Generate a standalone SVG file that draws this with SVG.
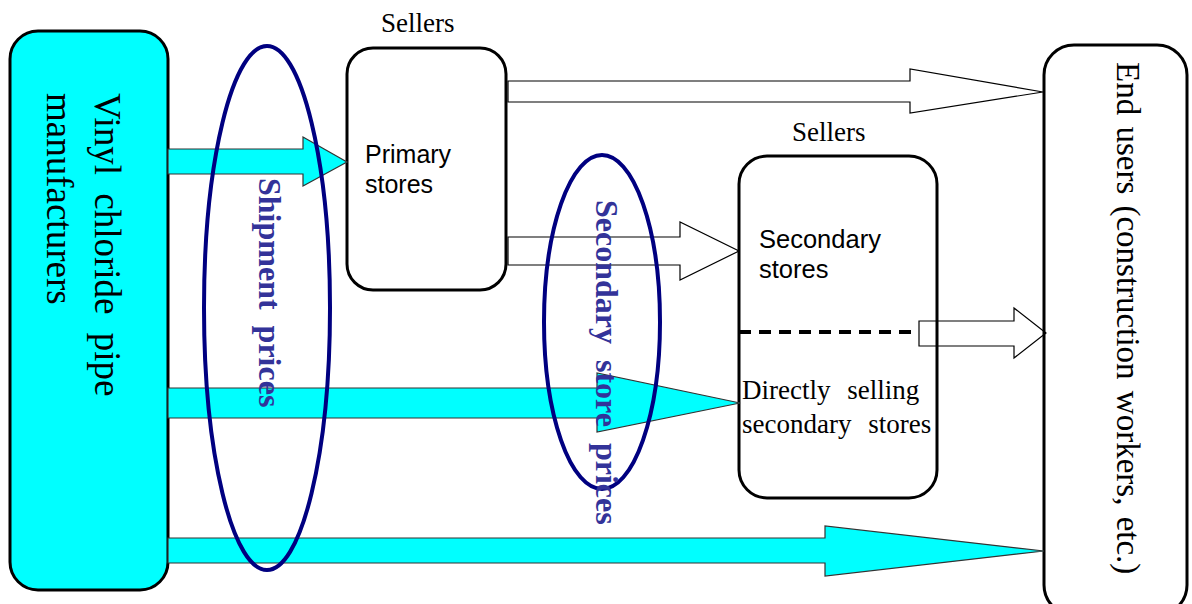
<svg xmlns="http://www.w3.org/2000/svg" width="1192" height="604" viewBox="0 0 1192 604">
<style>
.box{fill:#fff;stroke:#000;stroke-width:3}
.serif{font-family:"Liberation Serif","Times New Roman",serif;fill:#000}
.sans{font-family:"Liberation Sans",Arial,sans-serif;fill:#000}
.cyanarrow{fill:#00ffff;stroke:#333;stroke-width:1.2}
.whitearrow{fill:none;stroke:#000;stroke-width:1.2}
.ell{fill:none;stroke:#000080;stroke-width:4}
.lbl{font-family:"Liberation Serif","Times New Roman",serif;font-weight:bold;fill:#333399}
</style>
<rect width="1192" height="604" fill="#fff"/>
<g id="manufacturers">
<rect x="10" y="31" width="158" height="559" rx="28" fill="#00ffff" stroke="#000" stroke-width="3"/>
<text class="serif" font-size="37" word-spacing="9" transform="translate(95,93) rotate(90)">Vinyl chloride pipe</text>
<text class="serif" font-size="37" transform="translate(47,93) rotate(90)">manufacturers</text>
</g>
<g id="primary">
<text class="serif" font-size="27" x="381" y="32">Sellers</text>
<rect class="box" x="347" y="48" width="159" height="242" rx="26"/>
<text class="sans" font-size="25" x="365" y="163">Primary</text>
<text class="sans" font-size="25" x="365" y="193">stores</text>
</g>
<g id="secondary">
<text class="serif" font-size="27" x="792" y="141">Sellers</text>
<rect class="box" x="739" y="156" width="198" height="342" rx="28"/>
<text class="sans" font-size="25.5" x="759" y="248">Secondary</text>
<text class="sans" font-size="25.5" x="759" y="278">stores</text>
<line x1="739" y1="332" x2="918" y2="332" stroke="#000" stroke-width="4" stroke-dasharray="12 8"/>
<text class="serif" font-size="27" word-spacing="10" x="742" y="399">Directly selling</text>
<text class="serif" font-size="27" word-spacing="10" x="742" y="433">secondary stores</text>
</g>
<g id="endusers">
<rect class="box" x="1044" y="45" width="143" height="570" rx="30"/>
<text class="serif" font-size="33" word-spacing="3" transform="translate(1117,62) rotate(90)">End users (construction workers, etc.)</text>
</g>
<g id="connectors">
<polygon class="cyanarrow" points="168,149 303,149 303,137 347,162 303,186 303,174 168,174"/>
<polygon class="cyanarrow" points="168,388 597,388 597,373 740,403 597,432 597,418 168,418"/>
<polygon class="cyanarrow" points="168,538 825,538 825,526 1044,551 825,576 825,563 168,563"/>
<polygon class="whitearrow" points="508,81 910,81 910,69 1043,92 910,113 910,102 508,102"/>
<polygon class="whitearrow" points="508,237 680,237 680,222 739,251 680,280 680,265 508,265"/>
<polygon class="whitearrow" points="919,321 1014,321 1014,308 1046,333 1014,358 1014,346 919,346"/>
</g>
<g id="shipment-prices">
<ellipse class="ell" cx="267" cy="308" rx="63" ry="262"/>
<text class="lbl" font-size="32" word-spacing="8" transform="translate(259,178) rotate(90)">Shipment prices</text>
</g>
<g id="secondary-store-prices">
<ellipse class="ell" cx="602" cy="322" rx="58" ry="167"/>
<text class="lbl" font-size="32" word-spacing="8" transform="translate(596,200) rotate(90)">Secondary store prices</text>
</g>
</svg>
